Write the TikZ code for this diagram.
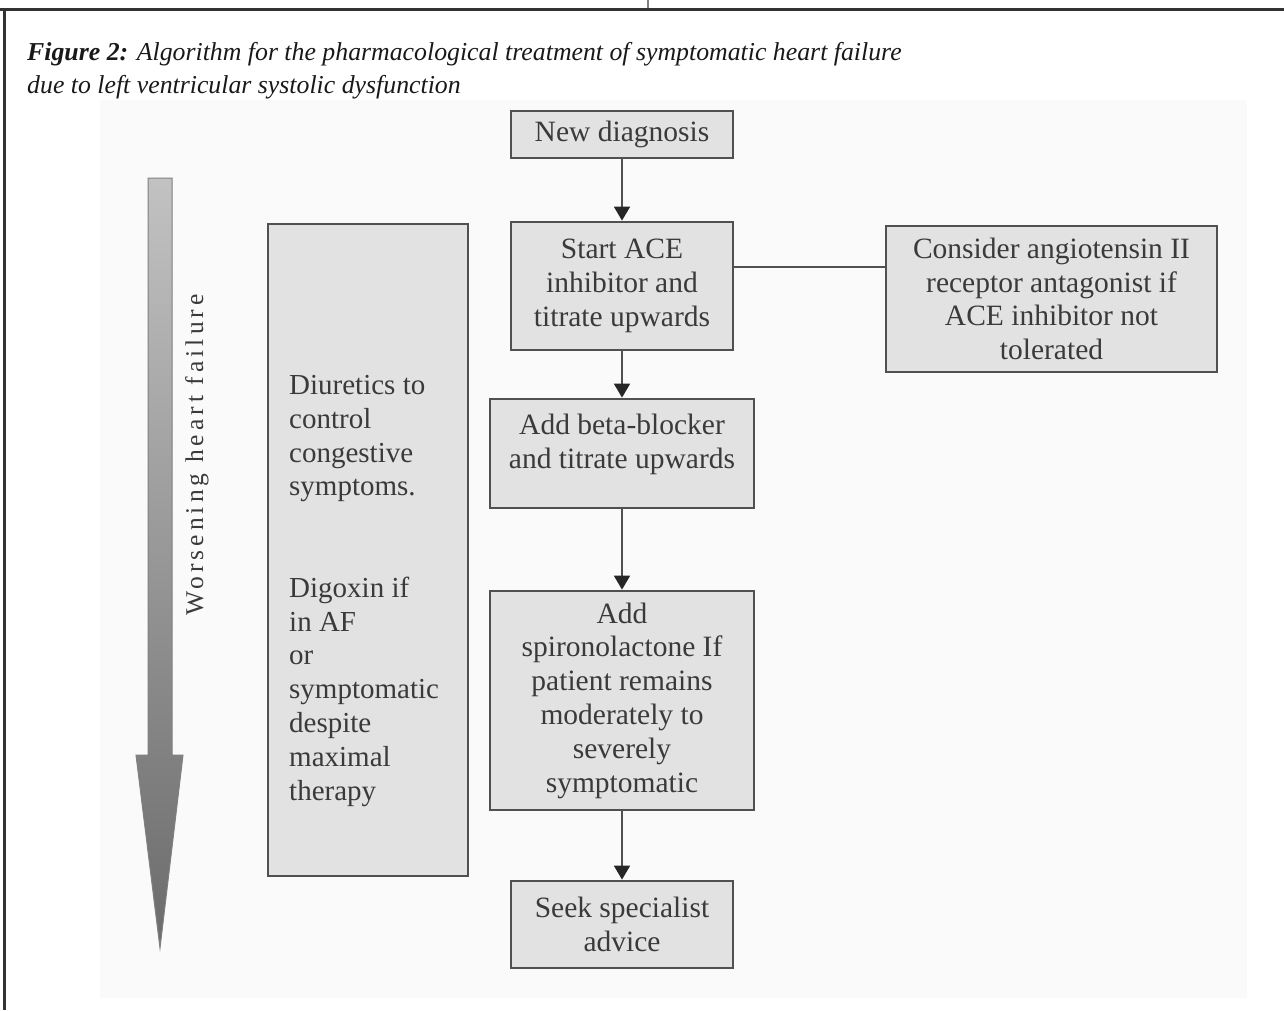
\documentclass[tikz,border=0pt]{standalone}
\usepackage{fontspec}
\setmainfont{Liberation Serif}
\usetikzlibrary{arrows.meta,calc}
\definecolor{boxfill}{HTML}{E2E2E2}
\definecolor{boxdraw}{HTML}{505050}
\definecolor{txt}{HTML}{3A3A3A}
\definecolor{frame}{HTML}{333333}
\begin{document}
\begin{tikzpicture}[x=1pt,y=-1pt,
  box/.style={draw=boxdraw,line width=2.8pt,fill=boxfill,text=txt,
    font=\fontsize{29.5}{33.8}\selectfont,align=center,inner sep=0pt},
  conn/.style={draw=boxdraw,line width=1.8pt,
    -{Triangle[length=14pt,width=16pt,color=black!85]}},
  link/.style={draw=boxdraw,line width=1.8pt},
  captext/.style={anchor=base west,inner sep=0pt,text=black!90,
    font=\fontsize{25.8}{30}\selectfont\itshape}]
\useasboundingbox (0,0) rectangle (1284,1010);
% frame
\fill[black!2] (100,100) rectangle (1247,998);
\draw[frame,line width=3pt] (0,9) -- (1284,9);
\draw[frame,line width=3pt] (4,9) -- (4,1010);
\draw[black!50,line width=2pt] (648,0) -- (648,8);
% caption
\node[captext] (cap1) at (27,60) {\textbf{Figure 2:} Algorithm for the pharmacological treatment of symptomatic heart failure};
\node[captext] (cap2) at (27,93) {due to left ventricular systolic dysfunction};
% big arrow
\shadedraw[top color=black!24,bottom color=black!58,draw=black!50,line width=1pt]
  (148,178) -- (172,178) -- (172,755) -- (183,755) -- (160,948) -- (136,755) -- (148,755) -- cycle;
\node[rotate=90,text=txt,font=\fontsize{25.5}{30}\selectfont\addfontfeature{LetterSpace=16}] (worse) at (197,455) {Worsening heart failure};
% boxes
\node[box,minimum width=222pt,minimum height=47pt] (new) at (622,134.5) {New diagnosis};
\node[box,minimum width=222pt,minimum height=128pt] (ace) at (622,286) {Start ACE\\inhibitor and\\titrate upwards};
\node[box,minimum width=331pt,minimum height=146pt] (cons) at (1051.5,299) {Consider angiotensin II\\receptor antagonist if\\ACE inhibitor not\\tolerated};
\node[box,minimum width=264pt,minimum height=109pt,text depth=24pt] (beta) at (622,453.5) {Add beta-blocker\\and titrate upwards};
\node[box,minimum width=264pt,minimum height=219pt] (spiro) at (622,700.5) {Add\\spironolactone If\\patient remains\\moderately to\\severely\\symptomatic};
\node[box,minimum width=222pt,minimum height=87pt] (seek) at (622,924.5) {Seek specialist\\advice};
\node[box,minimum width=200pt,minimum height=652pt] (diur) at (368,550) {};
\node[anchor=north west,align=left,inner sep=0pt,text=txt,font=\fontsize{29}{33.8}\selectfont] (diurtext) at (289,375)
  {Diuretics to\\control\\congestive\\symptoms.\\[67.6pt]Digoxin if\\in AF\\or\\symptomatic\\despite\\maximal\\therapy};
% connectors
\draw[conn] (new) -- (ace);
\draw[conn] (ace) -- (beta);
\draw[conn] (beta) -- (spiro);
\draw[conn] (spiro) -- (seek);
\draw[link] ([yshift=19pt]ace.east) coordinate (p) -- (p -| cons.west);
\end{tikzpicture}
\end{document}
